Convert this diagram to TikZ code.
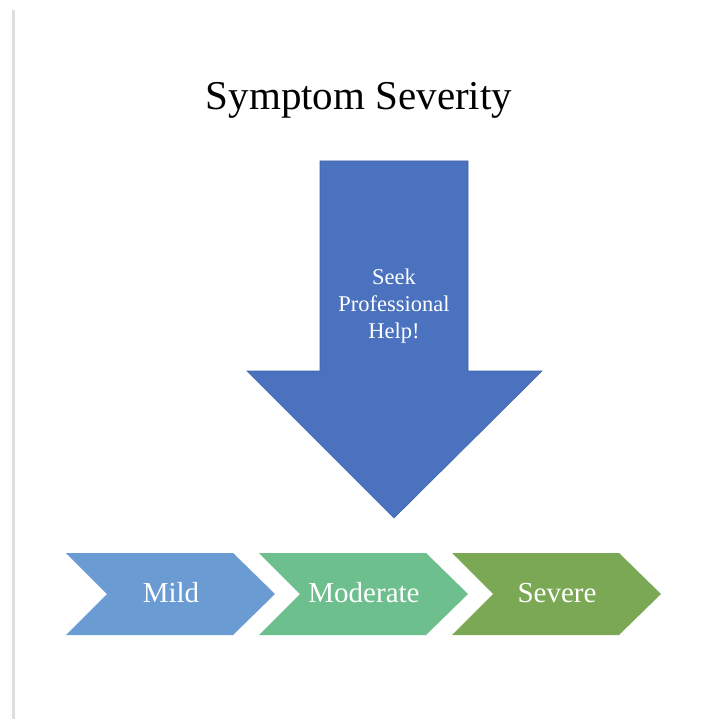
\documentclass[tikz,border=0pt]{standalone}
\usepackage{fontspec}
\setmainfont{Liberation Serif}
\usepackage{tikz}
\usetikzlibrary{calc,positioning}
\definecolor{ArrowBlue}{HTML}{4A72BE}
\definecolor{ArrowEdge}{HTML}{3E64A8}
\definecolor{MildBlue}{HTML}{6A9BD2}
\definecolor{ModGreen}{HTML}{6DBF8E}
\definecolor{SevGreen}{HTML}{7BA854}
\tikzstyle{chevron} =[line width=0pt]
\tikzstyle{chevlabel}=[text=white, font=\fontsize{29}{34}\selectfont,
                      inner sep=0pt, outer sep=0pt]

\begin{document}
\begin{tikzpicture}[x=1pt, y=-1pt, every node/.style = {inner sep=0pt,
            outer sep=0pt}] \useasboundingbox (0,0) rectangle (703,719);
            \fill [white] (0,0) rectangle (703,719); \draw [black!13, line
            width=2.5pt] (13.5,10) -- (13.5,719); \node (title) [anchor=base,
            font=\fontsize{41}{48}\selectfont] at (359,110) {Symptom Severity};
            \filldraw [fill=ArrowBlue, draw=ArrowEdge, line width=0.6pt]
            (320,161) -- (468,161) -- (468,371) -- (542,371) -- (394,518) --
            (247,371) -- (320,371) -- cycle; \node (help) [text=white,
            align=center, font=\fontsize{22.5}{27}\selectfont] at (394,306)
            {Seek\\Professional\\Help!}; \foreach \x/\c/\t/\n in
            {66/MildBlue/Mild/mild, 259/ModGreen/Moderate/moderate,
            452/SevGreen/Severe/severe} { \fill [chevron, \c] (\x,553) --
            ++(167,0) -- ++(42,41) -- ++(-42,41) -- ++(-167,0) -- ++(41,-41)
            -- cycle; \node (\n) [chevlabel] at (\x+105,593) {\t}; }
        \end{tikzpicture}
\end{document}
